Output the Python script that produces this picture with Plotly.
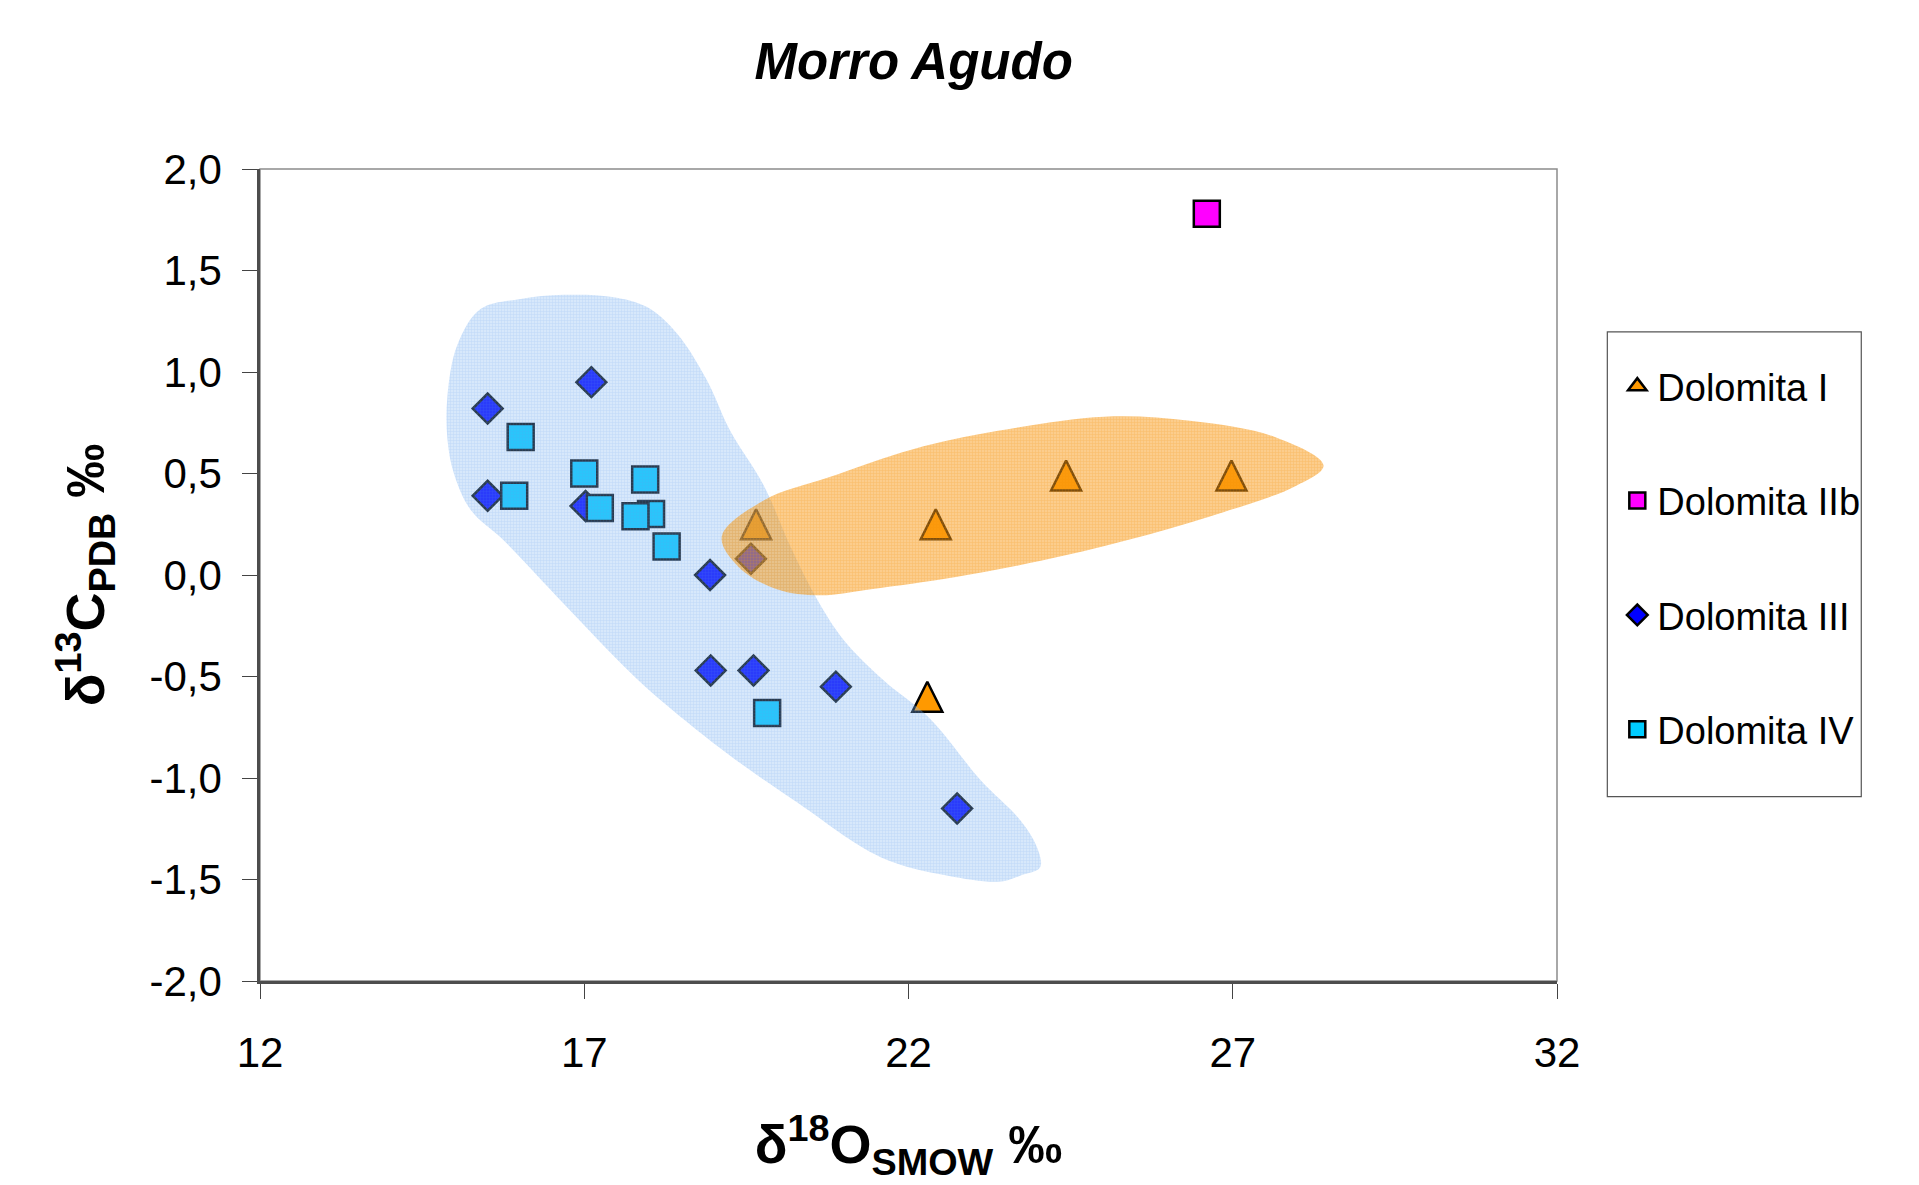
import plotly.graph_objects as go

# Isotope data (δ18O SMOW vs δ13C PDB), per dolomite generation
dol1_x = [19.65, 22.42, 24.43, 26.98, 22.29]
dol1_y = [0.25, 0.25, 0.49, 0.49, -0.60]

dol2_x = [26.60]
dol2_y = [1.78]

dol3_x = [15.51, 17.11, 15.51, 17.02, 18.94, 19.57, 18.95, 19.61, 20.88, 22.75]
dol3_y = [0.82, 0.95, 0.39, 0.34, 0.00, 0.08, -0.47, -0.47, -0.55, -1.15]

dol4_x = [16.02, 15.92, 17.00, 17.24, 17.94, 18.03, 17.79, 18.27, 19.82]
dol4_y = [0.68, 0.39, 0.50, 0.33, 0.47, 0.30, 0.29, 0.14, -0.68]

# Outlines of the two grouping fields (data units)
field_blue_x = [17.43, 17.97, 18.43, 18.89, 19.25, 19.77, 20.18, 20.59, 21.00, 21.62,
                22.34, 23.11, 23.73, 23.98, 24.03, 23.73, 23.42, 22.59, 21.57, 20.28,
                19.25, 18.23, 17.71, 16.68, 15.76, 15.25, 14.99, 14.89, 14.89, 15.04,
                15.40, 16.02, 16.68, 17.43]
field_blue_y = [1.37, 1.32, 1.19, 0.96, 0.71, 0.44, 0.14, -0.12, -0.32, -0.52,
                -0.71, -1.01, -1.21, -1.34, -1.44, -1.48, -1.51, -1.48, -1.39, -1.12,
                -0.89, -0.63, -0.48, -0.14, 0.17, 0.32, 0.50, 0.67, 0.88, 1.13,
                1.31, 1.36, 1.38, 1.37]

field_orange_x = [22.07, 23.38, 25.02, 26.34, 27.65, 28.40, 27.98, 26.66, 25.35, 24.04,
                  22.73, 21.42, 20.63, 19.97, 19.38, 19.12, 19.78, 20.76, 22.07]
field_orange_y = [0.62, 0.71, 0.78, 0.76, 0.68, 0.54, 0.44, 0.29, 0.17, 0.07,
                  -0.01, -0.07, -0.10, -0.07, 0.04, 0.19, 0.37, 0.48, 0.62]

x_ticks = [12, 17, 22, 27, 32]
y_tick_vals = [-2.0, -1.5, -1.0, -0.5, 0.0, 0.5, 1.0, 1.5, 2.0]
y_tick_text = ["-2,0", "-1,5", "-1,0", "-0,5", "0,0", "0,5", "1,0", "1,5", "2,0"]

FONT = "Liberation Sans, Arial, sans-serif"
OUTLINE = dict(color="black", width=2.5)

fig = go.Figure()

# Legend entry for Dolomita I (plain triangle glyph, no data)
fig.add_trace(go.Scatter(
    x=[None], y=[None], mode="markers", name="Dolomita I", legendgroup="d1",
    marker=dict(symbol="triangle-up", size=16, color="#FF9900", line=OUTLINE),
))
# Isosceles triangle: arrow glyph flipped and pulled back so it sits centred on the point
fig.add_trace(go.Scatter(
    x=dol1_x, y=dol1_y, mode="markers", name="Dolomita I", legendgroup="d1",
    showlegend=False,
    marker=dict(symbol="arrow-down", angle=180, size=30, standoff=15,
                color="#FF9900", line=OUTLINE),
))
fig.add_trace(go.Scatter(
    x=dol2_x, y=dol2_y, mode="markers", name="Dolomita IIb", legendgroup="d2",
    marker=dict(symbol="square", size=26, color="#FF00FF", line=OUTLINE),
))
fig.add_trace(go.Scatter(
    x=dol3_x, y=dol3_y, mode="markers", name="Dolomita III", legendgroup="d3",
    marker=dict(symbol="diamond", size=23, color="#0000FF", line=OUTLINE),
))
fig.add_trace(go.Scatter(
    x=dol4_x, y=dol4_y, mode="markers", name="Dolomita IV", legendgroup="d4",
    marker=dict(symbol="square", size=26, color="#00CCFF", line=OUTLINE),
))

# Translucent grouping fields laid over the samples
fig.add_trace(go.Scatter(
    x=field_blue_x, y=field_blue_y, mode="lines", fill="toself",
    line=dict(width=0, shape="spline", smoothing=1),
    fillcolor="rgba(120,180,245,0.32)",
    fillpattern=dict(shape="+", size=3, solidity=0.25,
                     bgcolor="rgba(130,185,245,0.32)", fgcolor="rgba(90,150,235,0.48)"),
    showlegend=False, hoverinfo="skip",
))
fig.add_trace(go.Scatter(
    x=field_orange_x, y=field_orange_y, mode="lines", fill="toself",
    line=dict(width=0, shape="spline", smoothing=1),
    fillcolor="rgba(250,150,20,0.5)",
    fillpattern=dict(shape="+", size=3, solidity=0.25,
                     bgcolor="rgba(250,155,25,0.50)", fgcolor="rgba(245,140,0,0.62)"),
    showlegend=False, hoverinfo="skip",
))

axis_common = dict(
    showgrid=False, zeroline=False, ticks="outside", ticklen=15, tickwidth=1,
    tickcolor="#444444", showline=True, linecolor="#4d4d4d", linewidth=2.5,
    tickfont=dict(family=FONT, size=42, color="black"),
)

fig.update_xaxes(
    range=[12, 32], tickvals=x_ticks, ticklabelstandoff=18,
    title=dict(text="<b>δ<sup>18</sup>O<sub>SMOW</sub> ‰</b>",
               font=dict(family=FONT, size=54, color="black"), standoff=51),
    **axis_common,
)
fig.update_yaxes(
    range=[-2, 2], tickvals=y_tick_vals, ticktext=y_tick_text, ticklabelstandoff=12,
    title=dict(text="<b>δ<sup>13</sup>C<sub>PDB</sub> ‰</b>",
               font=dict(family=FONT, size=54, color="black"), standoff=28),
    **axis_common,
)

# Light frame on the top and right sides of the plot area
fig.add_shape(type="rect", xref="paper", yref="paper", x0=0, y0=0, x1=1, y1=1,
              line=dict(color="#8c8c8c", width=1.5), layer="below")

# Box around the legend entries
fig.add_shape(type="rect", xref="paper", yref="paper",
              x0=1.0388, y0=0.227, x1=1.2346, y1=0.7993,
              line=dict(color="#555555", width=1.2), fillcolor="rgba(0,0,0,0)")

fig.update_layout(
    width=1919, height=1185,
    margin=dict(l=260, r=362, t=169, b=204, pad=0),
    paper_bgcolor="white", plot_bgcolor="white",
    title=dict(text="<b><i>Morro Agudo</i></b>", x=0.504, xref="paper",
               y=1 - 61 / 1185, yref="container", yanchor="middle", xanchor="center",
               font=dict(family=FONT, size=51, color="black")),
    legend=dict(
        x=1.0465, y=0.771, xanchor="left", yanchor="top",
        borderwidth=0, bgcolor="rgba(0,0,0,0)",
        font=dict(family=FONT, size=38, color="black"),
        tracegroupgap=62, itemsizing="trace",
    ),
    showlegend=True,
)

fig.write_html("out.html")
